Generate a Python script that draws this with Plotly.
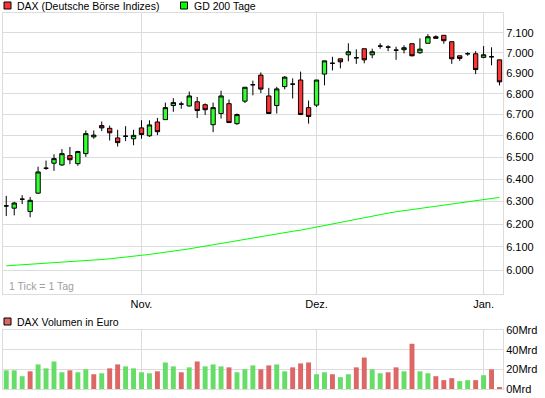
import math
import pandas as pd
import plotly.graph_objects as go

# ---- data -------------------------------------------------------------
days = pd.bdate_range("2010-10-07", "2011-01-05")
dates = [d.strftime("%Y-%m-%d") for d in days if d.strftime("%m-%d") not in ("12-24", "12-31")]

opens = [6280, 6270, 6310, 6255, 6337, 6450, 6473, 6465, 6508, 6471,
         6517, 6595, 6648, 6635, 6590, 6598, 6586, 6637, 6600, 6665,
         6676, 6743, 6750, 6741, 6761, 6747, 6652, 6705, 6752, 6657,
         6764, 6843, 6890, 6789, 6743, 6834, 6846, 6866, 6733, 6745,
         6895, 6948, 6970, 6990, 6975, 7020, 6990, 7033, 7028, 7013,
         7015, 7045, 7000, 7047, 7080, 7087, 7055, 6985, 6995, 6995,
         6977, 6980, 6965]
highs = [6325, 6298, 6328, 6320, 6457, 6485, 6514, 6538, 6548, 6530,
         6625, 6625, 6667, 6648, 6628, 6645, 6628, 6673, 6673, 6684,
         6757, 6778, 6762, 6810, 6784, 6753, 6757, 6814, 6772, 6705,
         6831, 6863, 6903, 6828, 6833, 6885, 6874, 6907, 6767, 6866,
         6960, 6980, 6970, 7047, 7017, 7020, 7020, 7047, 7037, 7030,
         7037, 7045, 7072, 7093, 7087, 7087, 7055, 6985, 7003, 7008,
         7033, 7027, 6965]
lows = [6235, 6238, 6288, 6230, 6334, 6443, 6438, 6461, 6468, 6461,
        6502, 6586, 6622, 6578, 6550, 6575, 6556, 6586, 6595, 6603,
        6676, 6713, 6728, 6738, 6684, 6698, 6617, 6681, 6662, 6651,
        6755, 6792, 6803, 6705, 6705, 6821, 6777, 6700, 6657, 6736,
        6840, 6913, 6923, 6958, 6945, 6948, 6973, 7020, 7008, 6965,
        6997, 6982, 6995, 7047, 7072, 7045, 6945, 6960, 6985, 6895,
        6973, 6938, 6840]
closes = [6280, 6293, 6310, 6305, 6433, 6450, 6494, 6517, 6489, 6527,
          6610, 6603, 6637, 6614, 6568, 6598, 6602, 6606, 6651, 6619,
          6733, 6757, 6750, 6789, 6719, 6723, 6733, 6789, 6662, 6700,
          6831, 6843, 6822, 6705, 6823, 6880, 6846, 6700, 6691, 6866,
          6960, 6948, 6955, 7005, 6975, 6965, 7005, 7033, 7028, 7013,
          7025, 6985, 7018, 7080, 7072, 7060, 6970, 6972, 6995, 6917,
          6990, 6980, 6857]
gd200 = [6019, 6021, 6023, 6025, 6027, 6029, 6031, 6033, 6035, 6037,
         6040, 6043, 6046, 6049, 6052, 6056, 6060, 6064, 6068, 6072,
         6077, 6082, 6087, 6092, 6098, 6104, 6110, 6116, 6122, 6128,
         6134, 6140, 6146, 6152, 6158, 6163, 6168, 6173, 6180, 6187,
         6193, 6200, 6207, 6214, 6221, 6228, 6235, 6242, 6248, 6254,
         6259, 6264, 6269, 6274, 6279, 6284, 6289, 6294, 6299, 6304,
         6309, 6313, 6318]
volume_mrd = [19, 19, 13, 18, 25, 21, 28, 17, 19, 17,
              20, 15, 16, 21, 25, 23, 21, 17, 16, 18,
              27, 23, 17, 22, 28, 23, 25, 23, 22, 17,
              20, 24, 20, 24, 25, 18, 22, 26, 27, 15,
              17, 15, 12, 15, 22, 32, 20, 16, 17, 22,
              18, 46, 18, 16, 13, 9, 11, 8, 9, 9,
              14, 20, 2]

price_ticks = [6000, 6100, 6200, 6300, 6400, 6500, 6600, 6700, 6800, 6900, 7000, 7100]
price_labels = ["6.000", "6.100", "6.200", "6.300", "6.400", "6.500",
                "6.600", "6.700", "6.800", "6.900", "7.000", "7.100"]
vol_ticks = [0, 20, 40, 60]
vol_labels = ["0Mrd", "20Mrd", "40Mrd", "60Mrd"]
month_ticks = ["2010-11-01", "2010-12-01", "2011-01-03"]
month_labels = ["Nov.", "Dez.", "Jan."]

# ---- styling -------------------------------------------------------------
W, H = 545, 398
ML, MR, MT, MB = 3, 42, 13, 9
PW, PH = W - ML - MR, H - MT - MB
FONT = "Liberation Sans, Arial, sans-serif"
GRID = "#dcdcdc"
GREEN_C, RED_C = "#33ff33", "#ff3333"
GREEN_V, RED_V = "#66dd66", "#dd6666"


def px_x(px):
    return (px - ML) / PW


def px_y(py):
    return (H - MB - py) / PH


vol_colors = [GREEN_V]
for k in range(1, len(closes)):
    vol_colors.append(GREEN_V if closes[k] >= closes[k - 1] else RED_V)

fig = go.Figure()
fig.add_trace(go.Scatter(x=dates, y=gd200, mode="lines",
                         line=dict(color="#00ff00", width=1),
                         xaxis="x", yaxis="y", hoverinfo="skip"))
fig.add_trace(go.Candlestick(x=dates, open=opens, high=highs, low=lows, close=closes,
                             increasing=dict(fillcolor=GREEN_C, line=dict(color="black", width=1)),
                             decreasing=dict(fillcolor=RED_C, line=dict(color="black", width=1)),
                             whiskerwidth=0, xaxis="x", yaxis="y"))
fig.add_trace(go.Bar(x=dates, y=volume_mrd, marker=dict(color=vol_colors, line=dict(width=0)),
                     width=0.62, xaxis="x2", yaxis="y2"))

main_bottom = px_y(294)
vol_top = px_y(330)

axis_common = dict(showline=True, mirror=True, linecolor=GRID, linewidth=1,
                   gridcolor=GRID, gridwidth=1, zeroline=False, ticks="",
                   automargin=False,
                   tickfont=dict(family=FONT, size=11, color="black"))

x_range = [-0.41, len(dates) - 1 + 0.44]

fig.update_layout(
    width=W, height=H,
    margin=dict(l=ML, r=MR, t=MT, b=MB, pad=0, autoexpand=False),
    paper_bgcolor="white", plot_bgcolor="white",
    showlegend=False,
    boxgap=0.22,
    font=dict(family=FONT, size=11, color="black"),
    xaxis=dict(type="category", categoryorder="array", categoryarray=dates,
               range=x_range, domain=[0, 1], anchor="y",
               tickvals=month_ticks, ticktext=month_labels, showgrid=True,
               rangeslider=dict(visible=False), **axis_common),
    yaxis=dict(type="log", range=[math.log10(5900), math.log10(7200)],
               domain=[main_bottom, 1], side="right", anchor="x",
               tickvals=price_ticks, ticktext=price_labels, showgrid=True, **axis_common),
    xaxis2=dict(type="category", categoryorder="array", categoryarray=dates,
                range=x_range, domain=[0, 1], anchor="y2", matches="x",
                tickvals=month_ticks, showticklabels=False, showgrid=True, **axis_common),
    yaxis2=dict(range=[0, 60], domain=[0, vol_top], side="right", anchor="x2",
                tickvals=vol_ticks, ticktext=vol_labels, showgrid=True, **axis_common),
)

shapes = []
annotations = []


def legend_item(x0, yc, color, text):
    shapes.append(dict(type="rect", xref="paper", yref="paper",
                       x0=px_x(x0), x1=px_x(x0 + 7), y0=px_y(yc - 3.5), y1=px_y(yc + 3.5),
                       fillcolor=color, line=dict(color="black", width=1)))
    annotations.append(dict(xref="paper", yref="paper", x=px_x(x0 + 11), y=px_y(yc),
                            xanchor="left", yanchor="middle", showarrow=False, text=text,
                            font=dict(family=FONT, size=10.5, color="black")))


legend_item(4, 5.5, RED_C, "DAX (Deutsche Börse Indizes)")
legend_item(180.5, 5.5, "#00ff00", "GD 200 Tage")
legend_item(4, 321.5, RED_V, "DAX Volumen in Euro")
annotations.append(dict(xref="paper", yref="paper", x=px_x(7), y=px_y(285.5),
                        xanchor="left", yanchor="middle", showarrow=False,
                        text="1 Tick = 1 Tag", font=dict(family=FONT, size=10.5, color="#a0a0a0")))

fig.update_layout(shapes=shapes, annotations=annotations)

fig.write_html("out.html", config={"displayModeBar": False})

with open("out.html", "r", encoding="utf-8") as fh:
    html = fh.read()
html = html.replace("<head>", "<head><style>html,body{margin:0;padding:0;overflow:hidden;}</style>", 1)
with open("out.html", "w", encoding="utf-8") as fh:
    fh.write(html)
